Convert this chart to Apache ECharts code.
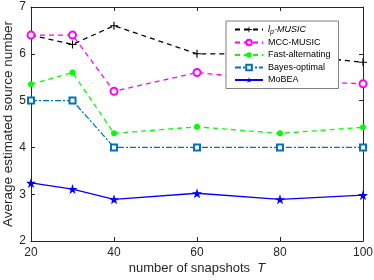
<!DOCTYPE html>
<html><head><meta charset="utf-8">
<script src="https://cdn.jsdelivr.net/npm/echarts@6/dist/echarts.min.js"></script>
<style>html,body{margin:0;padding:0;background:#fff}#c{width:374px;height:280px}</style>
</head><body><div id="c"></div>
<script>
const snapshots = [20, 30, 40, 60, 80, 100];
const lpMusic = [6.4, 6.2, 6.6, 6.0, 6.0, 5.82];
const mccMusic = [6.4, 6.4, 5.2, 5.6, 5.42, 5.36];
const fastAlt = [5.35, 5.6, 4.3, 4.44, 4.3, 4.43];
const bayesOpt = [5, 5, 4, 4, 4, 4];
const mobea = [3.24, 3.11, 2.89, 3.02, 2.89, 2.98];
const xTicks = [20, 40, 60, 80, 100];
const yTicks = [2, 3, 4, 5, 6, 7];

const pair = arr => snapshots.map((x, i) => [x, arr[i]]);
const axisCol = '#262626';
const font = 'Liberation Sans, Arial, sans-serif';
const plus = 'path://M4.3,0H5.7V4.3H10V5.7H5.7V10H4.3V5.7H0V4.3H4.3Z';
const star = 'path://M50,0L61.8,35.1L97.6,35.1L68.8,56.9L79.4,90.5L50,69.4L20.6,90.5L31.2,56.9L2.4,35.1L38.2,35.1Z';

const chart = echarts.init(document.getElementById('c'), null, {renderer: 'canvas'});
const baseX = {type: 'value', min: 20, max: 100, interval: 20};
const baseY = {type: 'value', min: 2, max: 7, interval: 1};
chart.setOption({
  animation: false,
  textStyle: {fontFamily: font},
  grid: {left: 31, right: 11, top: 7, bottom: 39, show: false, containLabel: false, outerBoundsMode: 'none'},
  xAxis: [
    Object.assign({}, baseX, {
      position: 'bottom',
      name: '{a|number of snapshots  }{t|T}',
      nameLocation: 'middle', nameGap: 21, nameMoveOverlap: false,
      nameTextStyle: {rich: {a: {fontSize: 13, color: axisCol, fontFamily: font}, t: {fontSize: 13, color: axisCol, fontStyle: 'italic', fontFamily: font}}},
      axisLine: {lineStyle: {color: axisCol, width: 1}},
      axisTick: {inside: true, length: 4, lineStyle: {color: axisCol}},
      axisLabel: {color: axisCol, fontSize: 12, margin: 6, formatter: v => xTicks.includes(v) ? String(v) : ''},
      splitLine: {show: false}
    }),
    Object.assign({}, baseX, {
      position: 'top',
      axisLine: {lineStyle: {color: axisCol, width: 1}},
      axisTick: {inside: true, length: 4, lineStyle: {color: axisCol}},
      axisLabel: {show: false}, splitLine: {show: false}
    })
  ],
  yAxis: [
    Object.assign({}, baseY, {
      position: 'left',
      name: 'Average estimated source number',
      nameLocation: 'middle', nameGap: 16, nameRotate: 90, nameMoveOverlap: false,
      nameTextStyle: {fontSize: 13.5, color: axisCol},
      axisLine: {show: true, lineStyle: {color: axisCol, width: 1}},
      axisTick: {show: true, inside: true, length: 4, lineStyle: {color: axisCol}},
      axisLabel: {color: axisCol, fontSize: 12, margin: 5, formatter: v => yTicks.includes(v) ? String(v) : ''},
      splitLine: {show: false}
    }),
    Object.assign({}, baseY, {
      position: 'right',
      axisLine: {show: true, lineStyle: {color: axisCol, width: 1}},
      axisTick: {show: true, inside: true, length: 4, lineStyle: {color: axisCol}},
      axisLabel: {show: false}, splitLine: {show: false}
    })
  ],
  legend: {
    left: 226, top: 21, orient: 'vertical',
    itemWidth: 28, itemHeight: 7, itemGap: 1.5,
    padding: [3, 8, 3, 8],
    borderColor: '#7f7f7f', borderWidth: 1, backgroundColor: '#fff',
    textStyle: {fontSize: 9, color: '#000', lineHeight: 11,
      rich: {i: {fontSize: 9, fontStyle: 'italic', color: '#000'}, s: {fontSize: 7, fontStyle: 'italic', color: '#000', padding: [5, 0, 0, 0]}}},
    formatter: n => n === 'lp-MUSIC' ? '{i|l}{s|p}{i|-MUSIC}' : n,
    data: ['lp-MUSIC', 'MCC-MUSIC', 'Fast-alternating', 'Bayes-optimal', 'MoBEA']
  },
  series: [
    {name: 'lp-MUSIC', type: 'line', data: pair(lpMusic), symbol: plus, symbolSize: 8,
      lineStyle: {color: '#000', width: 1.3, type: [5, 4]}, itemStyle: {color: '#000'}},
    {name: 'MCC-MUSIC', type: 'line', data: pair(mccMusic), symbol: 'emptyCircle', symbolSize: 7,
      lineStyle: {color: '#ff00ff', width: 1.3, type: [5, 4]}, itemStyle: {color: '#ff00ff', borderWidth: 1.3}},
    {name: 'Fast-alternating', type: 'line', data: pair(fastAlt), symbol: 'circle', symbolSize: 6,
      lineStyle: {color: '#00ff00', width: 1.3, type: [5, 4]}, itemStyle: {color: '#00ff00'}},
    {name: 'Bayes-optimal', type: 'line', data: pair(bayesOpt), symbol: 'emptyRect', symbolSize: 6,
      lineStyle: {color: '#0072bd', width: 1.3, type: [6, 2, 2, 2]}, itemStyle: {color: '#0072bd', borderWidth: 1.2}},
    {name: 'MoBEA', type: 'line', data: pair(mobea), symbol: star, symbolSize: 10,
      lineStyle: {color: '#0000ff', width: 1.3}, itemStyle: {color: '#0000ff'}}
  ]
});
</script></body></html>
